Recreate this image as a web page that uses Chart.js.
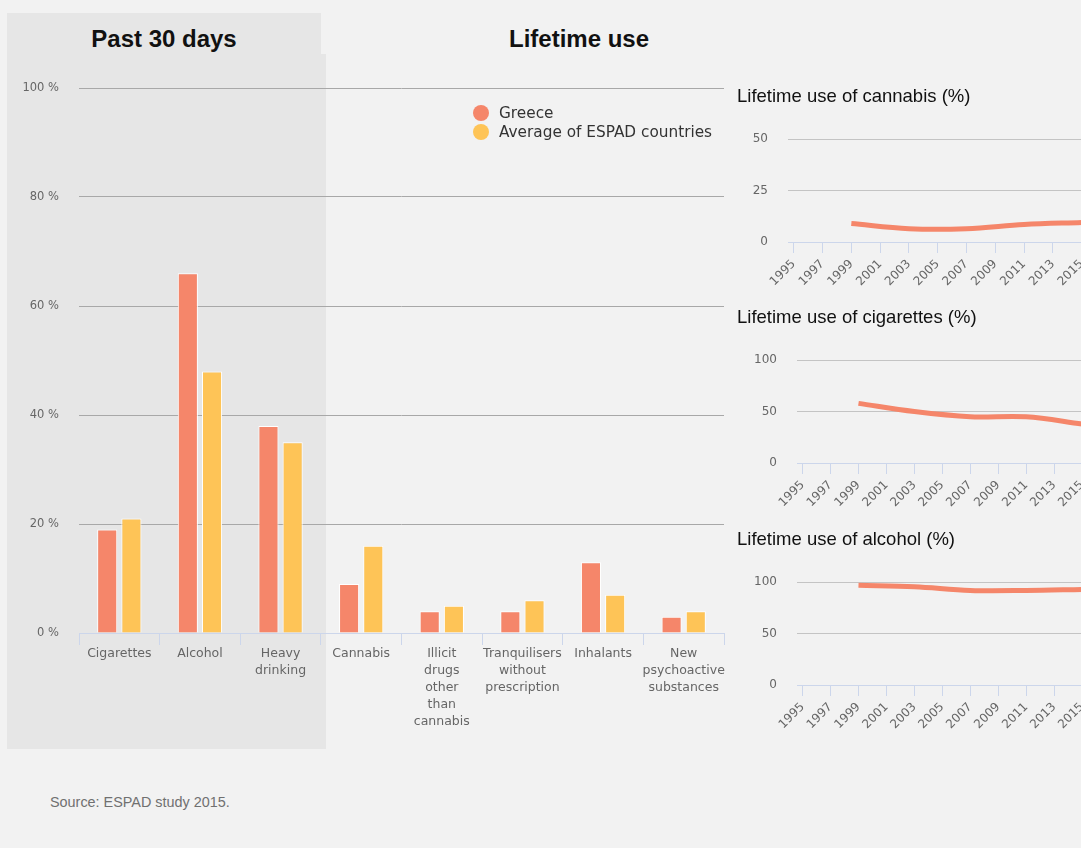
<!DOCTYPE html>
<html lang="en">
<head>
<meta charset="UTF-8">
<title>ESPAD 2015 | Greece</title>
<script src="https://cdn.jsdelivr.net/npm/chart.js"></script>
<style>
    html, body { margin: 0; padding: 0; }
    body {
        width: 1081px; height: 848px; overflow: hidden; position: relative;
        background: #f2f2f2; font-family: "Liberation Sans", Arial, sans-serif;
    }
    .shade { position: absolute; background: #e6e6e6; }
    .heading {
        position: absolute; top: 25px; line-height: 28px; text-align: center;
        font-size: 24px; font-weight: bold; color: #111;
    }
    .box { position: absolute; }
    #legend { position: absolute; left: 473px; top: 103px; font-family: "DejaVu Sans", sans-serif; font-size: 15.3px; color: #333; }
    #legend div { display: flex; align-items: center; height: 19px; white-space: nowrap; }
    #legend span { display: inline-block; width: 16px; height: 16px; border-radius: 50%; margin-right: 10px; }
    #source { position: absolute; left: 50px; top: 794px; font-size: 14.4px; color: #707070; }
</style>
</head>
<body>
    <!-- shaded "past 30 days" area -->
    <div class="shade" style="left:7px; top:13px; width:314px; height:41px;"></div>
    <div class="shade" style="left:7px; top:54px; width:319px; height:695px;"></div>
    <div class="heading" style="left:7px; width:314px;">Past 30 days</div>
    <div class="heading" style="left:459px; width:240px;">Lifetime use</div>

    <div class="box" style="left:7px; top:60px; width:730px; height:690px;"><canvas id="mainChart"></canvas></div>
    <div id="legend"></div>

    <div class="box" style="left:737px; top:86px; width:359px; height:206px;"><canvas id="cannabisChart"></canvas></div>
    <div class="box" style="left:737px; top:307px; width:359px; height:206px;"><canvas id="cigarettesChart"></canvas></div>
    <div class="box" style="left:737px; top:529px; width:359px; height:206px;"><canvas id="alcoholChart"></canvas></div>

    <div id="source">Source: ESPAD study 2015.</div>

<script>
    // ---- data ----
    const categories = ['Cigarettes', 'Alcohol', ['Heavy', 'drinking'], 'Cannabis',
        ['Illicit', 'drugs', 'other', 'than', 'cannabis'], ['Tranquilisers', 'without', 'prescription'],
        'Inhalants', ['New', 'psychoactive', 'substances']];
    const seriesNames = ['Greece', 'Average of ESPAD countries'];
    const greeceValues = [19, 66, 38, 9, 4, 4, 13, 3];
    const espadValues = [21, 48, 35, 16, 5, 6, 7, 4];
    const percentTicks = [0, 20, 40, 60, 80, 100];

    const surveyYears = [1999, 2003, 2007, 2011, 2015];
    const yearTicks = [1995, 1997, 1999, 2001, 2003, 2005, 2007, 2009, 2011, 2013, 2015];
    const cannabisGreece = [9, 6.5, 6.5, 8.5, 9.5];
    const cigarettesGreece = [58, 50, 45, 45, 38];
    const alcoholGreece = [97, 95.5, 92, 92, 93];

    const greeceColour = '#f5866a';
    const espadColour = '#fec457';

    // legend built from the series names
    const legend = document.getElementById('legend');
    [greeceColour, espadColour].forEach((c, i) => {
        legend.innerHTML += `<div><span style="background:${c}"></span>${seriesNames[i]}</div>`;
    });

    // ---- main bar chart ----
    new Chart(document.getElementById('mainChart'), {
        type: 'bar',
        data: {
            labels: categories,
            datasets: [
                { label: seriesNames[0], data: greeceValues, backgroundColor: greeceColour, borderColor: '#ffffff', borderWidth: 1, categoryPercentage: 0.6, barPercentage: 0.83 },
                { label: seriesNames[1], data: espadValues, backgroundColor: espadColour, borderColor: '#ffffff', borderWidth: 1, categoryPercentage: 0.6, barPercentage: 0.83 }
            ]
        },
        options: {
            responsive: true,
            maintainAspectRatio: false,
            animation: false,
            layout: { padding: { top: 28, right: 13, left: 0, bottom: 0 } },
            plugins: { legend: { display: false }, tooltip: { enabled: false } },
            scales: {
                x: {
                    afterFit: s => { s.height = 117; },
                    grid: { offset: true, drawOnChartArea: false, color: '#ccd6eb', tickLength: 12 },
                    border: { color: '#ccd6eb' },
                    ticks: { autoSkip: false, maxRotation: 0, padding: 0, color: '#666', font: { family: 'DejaVu Sans', size: 12.5, lineHeight: 1.36 } }
                },
                y: {
                    min: 0, max: 100,
                    afterFit: s => { s.width = 72; },
                    afterBuildTicks: s => { s.ticks = percentTicks.map(v => ({ value: v })); },
                    grid: { drawTicks: false, color: c => c.tick.value === 0 ? 'rgba(0,0,0,0)' : '#a8a8a8' },
                    border: { display: false },
                    ticks: { padding: 20, color: '#666', font: { family: 'DejaVu Sans', size: 11.5 }, callback: v => v + ' %' }
                }
            }
        }
    });

    // ---- small lifetime trend charts ----
    function trendChart(id, title, values, yMax, yStep, yWidth) {
        return new Chart(document.getElementById(id), {
            type: 'line',
            data: {
                datasets: [{
                    label: seriesNames[0],
                    data: surveyYears.map((yr, i) => ({ x: yr, y: values[i] })),
                    borderColor: greeceColour, borderWidth: 5, pointRadius: 0, tension: 0.35, fill: false
                }]
            },
            options: {
                responsive: true,
                maintainAspectRatio: false,
                animation: false,
                layout: { padding: 0 },
                plugins: {
                    legend: { display: false },
                    tooltip: { enabled: false },
                    title: {
                        display: true, text: title, align: 'start', color: '#111',
                        font: { family: 'Liberation Sans', size: 18.5, weight: 'normal' },
                        padding: { top: 0, bottom: 31 }
                    }
                },
                scales: {
                    x: {
                        type: 'linear', min: 1994.6, max: 2016,
                        afterBuildTicks: s => { s.ticks = yearTicks.map(v => ({ value: v })); },
                        afterFit: s => { s.height = 50; s.paddingLeft = 0; s.paddingRight = 0; },
                        grid: { drawOnChartArea: false, color: '#ccd6eb', tickLength: 11 },
                        border: { color: '#ccd6eb' },
                        ticks: { autoSkip: false, minRotation: 45, maxRotation: 45, padding: 4, color: '#666', font: { family: 'DejaVu Sans', size: 12 }, callback: v => String(v) }
                    },
                    y: {
                        min: 0, max: yMax,
                        afterFit: s => { s.width = yWidth; },
                        grid: { drawTicks: false, color: c => c.tick.value === 0 ? 'rgba(0,0,0,0)' : '#c4c4c4' },
                        border: { display: false },
                        ticks: { stepSize: yStep, padding: 20, color: '#666', font: { family: 'DejaVu Sans', size: 12 } }
                    }
                }
            }
        });
    }

    trendChart('cannabisChart', 'Lifetime use of cannabis (%)', cannabisGreece, 50, 25, 51);
    trendChart('cigarettesChart', 'Lifetime use of cigarettes (%)', cigarettesGreece, 100, 50, 60);
    trendChart('alcoholChart', 'Lifetime use of alcohol (%)', alcoholGreece, 100, 50, 60);
</script>
</body>
</html>
